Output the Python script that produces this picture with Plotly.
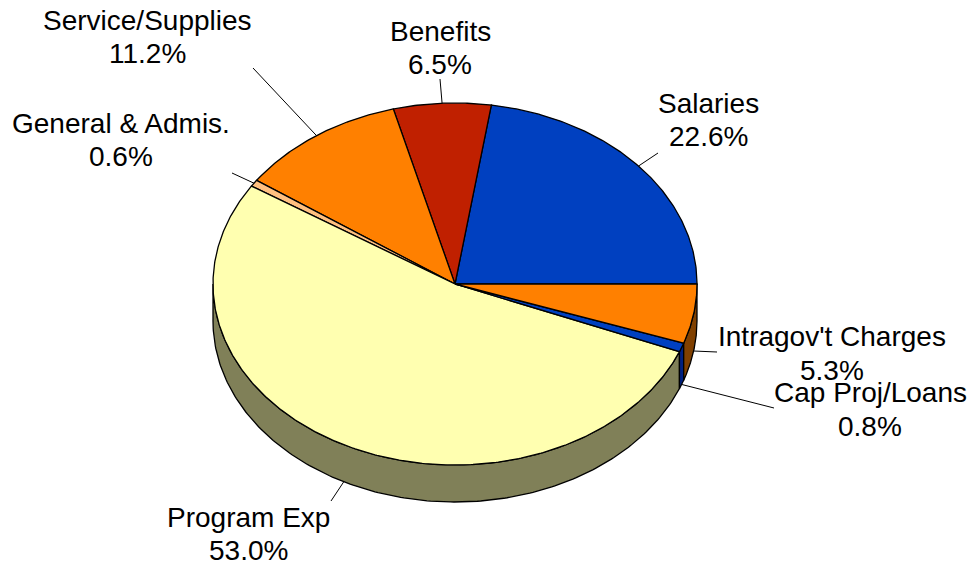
import numpy as np
import plotly.graph_objects as go

# ---- data ----
categories = ["Salaries", "Benefits", "Service/Supplies", "General & Admis.",
              "Program Exp", "Cap Proj/Loans", "Intragov't Charges"]
values = [22.6, 6.5, 11.2, 0.6, 53.0, 0.8, 5.3]

# ---- styles ----
top_colors = ["#0040C0", "#C02000", "#FF8000", "#FFC080", "#FFFFB0", "#0040C0", "#FF8000"]
side_colors = ["#002080", "#601000", "#804000", "#806040", "#808058", "#002080", "#804000"]

# ---- layout / geometry ----
W, H = 975, 568
CX, CY, RX, RY, DEPTH = 455, 284, 242, 181, 37
label_x = [708, 440, 147.5, 121, 248, 870, 832]
label_y1 = [103, 31, 20, 123, 517, 392.5, 336.5]
LINE_GAP = 33.5
leader_end = [(658, 153), (440, 79), (253, 68), (232, 173), (331, 501), (774, 408), (717, 352)]
FONT = dict(family="Liberation Sans, Arial, sans-serif", size=28, color="black")


def pt(a, dz=0.0):
    r = np.radians(a)
    return CX + RX * np.cos(r), CY - RY * np.sin(r) + dz


total = float(sum(values))
cum = np.concatenate([[0.0], np.cumsum(values)]) / total * 360.0

fig = go.Figure()

# sides (front half only: angles 180..360)
for i in range(len(values)):
    lo, hi = max(cum[i], 180.0), min(cum[i + 1], 360.0)
    if hi <= lo:
        continue
    ang = np.linspace(lo, hi, 200)
    tx, ty = pt(ang)
    bx, by = pt(ang[::-1], DEPTH)
    xs = np.concatenate([tx, bx, tx[:1]])
    ys = np.concatenate([ty, by, ty[:1]])
    fig.add_trace(go.Scatter(x=xs, y=ys, mode="lines", fill="toself",
                             fillcolor=side_colors[i],
                             line=dict(color="black", width=1.3),
                             hoverinfo="skip"))

# tops
for i in range(len(values)):
    ang = np.linspace(cum[i], cum[i + 1], max(3, int((cum[i + 1] - cum[i]) * 2)))
    ax, ay = pt(ang)
    xs = np.concatenate([[CX], ax, [CX]])
    ys = np.concatenate([[CY], ay, [CY]])
    fig.add_trace(go.Scatter(x=xs, y=ys, mode="lines", fill="toself",
                             fillcolor=top_colors[i],
                             line=dict(color="black", width=1.3),
                             hoverinfo="skip"))

# labels and leader lines
for i, (cat, v) in enumerate(zip(categories, values)):
    mid = (cum[i] + cum[i + 1]) / 2.0
    dz = DEPTH if 180.0 < mid < 360.0 else 0.0
    x0, y0 = pt(mid, dz)
    x1, y1 = leader_end[i]
    fig.add_shape(type="line", x0=float(x0), y0=float(y0), x1=x1, y1=y1,
                  xref="x", yref="y", line=dict(color="black", width=1))
    for j, txt in enumerate([cat, f"{v:.1f}%"]):
        fig.add_annotation(x=label_x[i], y=label_y1[i] + j * LINE_GAP,
                           xref="x", yref="y", text=txt, showarrow=False,
                           xanchor="center", yanchor="middle", font=FONT,
                           borderpad=0)

fig.update_layout(
    width=W, height=H, margin=dict(l=0, r=0, t=0, b=0),
    paper_bgcolor="white", plot_bgcolor="white", showlegend=False,
    xaxis=dict(range=[0, W], visible=False, fixedrange=True),
    yaxis=dict(range=[H, 0], visible=False, fixedrange=True),
)
fig.write_html("out.html")
